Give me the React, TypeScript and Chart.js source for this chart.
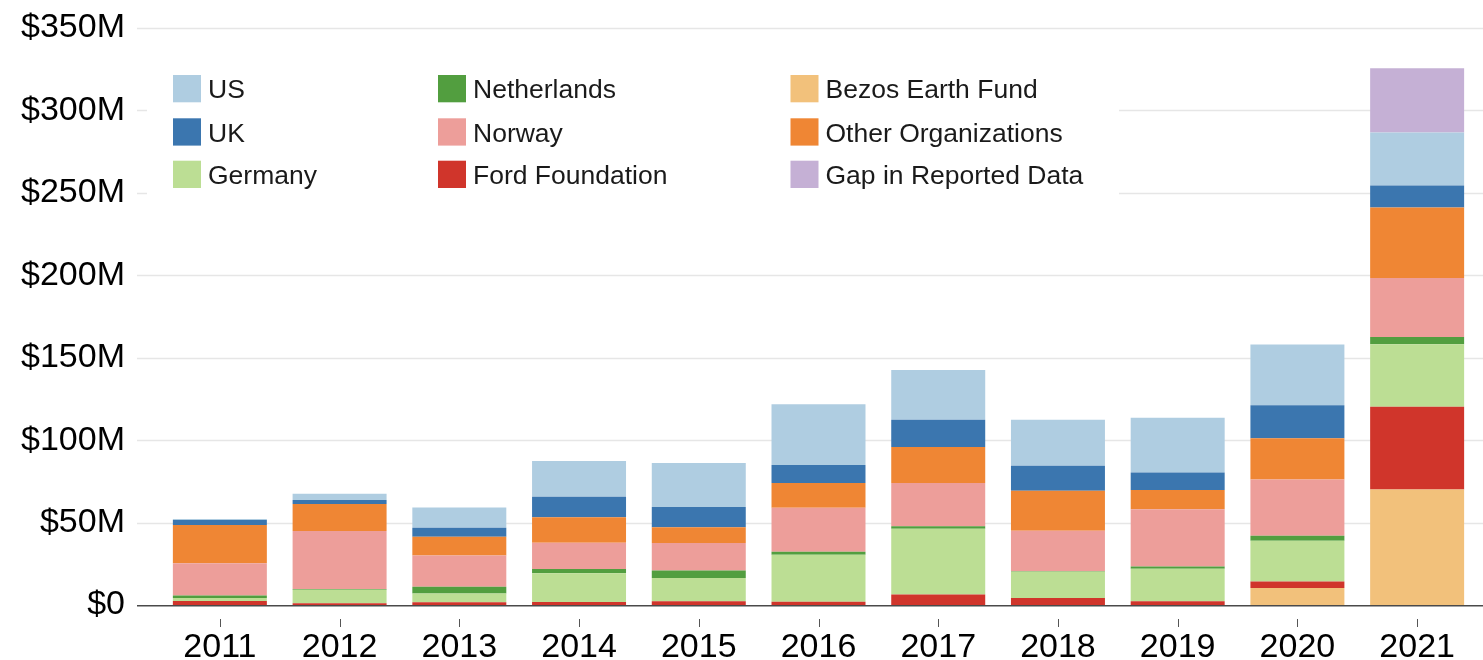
import React, { useEffect, useRef } from "react";
import { Chart, registerables } from "chart.js";

Chart.register(...registerables);

const years = ["2011", "2012", "2013", "2014", "2015", "2016", "2017", "2018", "2019", "2020", "2021"];
const bezos = [0, 0, 0, 0, 0, 0, 0, 0, 0, 10.3, 70];
const ford = [2.5, 1, 1.6, 1.8, 2.2, 2, 6.3, 4.2, 2.2, 4, 50.2];
const germany = [1.8, 8.3, 5.3, 17.4, 14.2, 28.5, 40, 16, 19.8, 24.6, 37.9];
const netherlands = [1.4, 0.4, 4.2, 2.6, 4.6, 1.8, 1.4, 0.3, 1.3, 3.1, 4.4];
const norway = [19.7, 35.2, 19, 16, 16.6, 26.7, 26.3, 24.5, 34.8, 34.1, 35.9];
const other = [23.2, 16.4, 11.3, 15.4, 9.5, 15, 21.8, 24.3, 11.7, 25.1, 42.7];
const uk = [3, 2.4, 5.5, 12.4, 12.3, 10.9, 16.6, 15.2, 10.6, 20, 13.4];
const us = [0.5, 3.8, 12.3, 21.8, 26.7, 36.8, 30.1, 27.9, 33.2, 36.8, 32.1];
const gap = [0, 0, 0, 0, 0, 0, 0, 0, 0, 0, 39];

const yTicks = [0, 50, 100, 150, 200, 250, 300, 350];

// legend layout: columns of labels
const legendColumns = [
  ["US", "UK", "Germany"],
  ["Netherlands", "Norway", "Ford Foundation"],
  ["Bezos Earth Fund", "Other Organizations", "Gap in Reported Data"],
];

const FONT = "'Liberation Sans', Arial, Helvetica, sans-serif";

const customDraw = {
  id: "customDraw",
  beforeDatasetsDraw(chart: any) {
    const { ctx } = chart;
    const y = chart.scales.y;
    const x = chart.scales.x;
    const W = chart.width;
    ctx.save();
    // gridlines
    ctx.strokeStyle = "#e6e6e6";
    ctx.lineWidth = 1.3;
    yTicks.forEach((v) => {
      if (v === 0) return;
      const py = Math.round(y.getPixelForValue(v)) + 0.5;
      ctx.beginPath();
      ctx.moveTo(137, py);
      ctx.lineTo(W, py);
      ctx.stroke();
    });
    // legend background
    ctx.fillStyle = "#ffffff";
    ctx.fillRect(147, 60, 972, 145);
    // tick marks
    ctx.strokeStyle = "#555555";
    ctx.lineWidth = 1;
    years.forEach((_, i) => {
      const px = Math.round(x.getPixelForValue(i)) + 0.5;
      ctx.beginPath();
      ctx.moveTo(px, 619);
      ctx.lineTo(px, 627);
      ctx.stroke();
    });
    ctx.restore();
  },
  afterDatasetsDraw(chart: any) {
    const { ctx } = chart;
    const y = chart.scales.y;
    const W = chart.width;
    ctx.save();
    // axis line
    const py = y.getPixelForValue(0) + 0.75;
    ctx.strokeStyle = "#4a4a4a";
    ctx.lineWidth = 1.5;
    ctx.beginPath();
    ctx.moveTo(137, py);
    ctx.lineTo(W, py);
    ctx.stroke();
    // legend
    const colX = [173, 438, 790.5];
    const rowY = [75, 118.3, 160.7];
    ctx.font = `26.5px ${FONT}`;
    ctx.textBaseline = "middle";
    ctx.textAlign = "left";
    legendColumns.forEach((col, ci) => {
      col.forEach((label, ri) => {
        const ds = chart.data.datasets.find((d: any) => d.label === label);
        if (!ds) return;
        ctx.fillStyle = ds.backgroundColor;
        ctx.fillRect(colX[ci], rowY[ri], 28, 27.3);
        ctx.fillStyle = "#1a1a1a";
        ctx.fillText(label, colX[ci] + 35, rowY[ri] + 16);
      });
    });
    ctx.restore();
  },
};

export default function App() {
  const ref = useRef<HTMLCanvasElement | null>(null);
  useEffect(() => {
    if (!ref.current) return;
    const mk = (label: string, data: number[], color: string) => ({
      label,
      data,
      backgroundColor: color,
      borderWidth: 0,
      stack: "s",
    });
    const chart = new Chart(ref.current, {
      type: "bar",
      data: {
        labels: years,
        datasets: [
          mk("Bezos Earth Fund", bezos, "#f2c17b"),
          mk("Ford Foundation", ford, "#d0352b"),
          mk("Germany", germany, "#bcde94"),
          mk("Netherlands", netherlands, "#529e3f"),
          mk("Norway", norway, "#ed9e9a"),
          mk("Other Organizations", other, "#ef8634"),
          mk("UK", uk, "#3b76af"),
          mk("US", us, "#afcde1"),
          mk("Gap in Reported Data", gap, "#c5b0d5"),
        ],
      },
      options: {
        animation: false,
        responsive: false,
        devicePixelRatio: 1,
        layout: { padding: { top: 28, right: 6, left: 0, bottom: 0 } },
        datasets: { bar: { categoryPercentage: 1, barPercentage: 0.785 } },
        plugins: { legend: { display: false }, tooltip: { enabled: false } },
        scales: {
          x: {
            stacked: true,
            grid: { display: false, drawTicks: false },
            border: { display: false },
            ticks: { color: "#000", font: { family: FONT, size: 34 }, padding: 22 },
            afterFit: (s: any) => {
              s.height = 55;
              s.paddingLeft = 0;
              s.paddingRight = 0;
            },
          },
          y: {
            stacked: true,
            min: 0,
            max: 350,
            grid: { display: false, drawTicks: false },
            border: { display: false },
            ticks: {
              stepSize: 50,
              color: "#000",
              font: { family: FONT, size: 34 },
              padding: 35,
              callback: (v: any) => (v === 0 ? "$0" : `$${v}M`),
            },
            afterFit: (s: any) => {
              s.width = 160;
              s.paddingTop = 0;
              s.paddingBottom = 0;
            },
          },
        },
      },
      plugins: [customDraw],
    });
    return () => chart.destroy();
  }, []);
  return (
    <div style={{ position: "fixed", left: 0, top: 0, width: 1483, height: 660, background: "#fff" }}>
      <canvas ref={ref} width={1483} height={660} style={{ width: 1483, height: 660, display: "block" }} />
    </div>
  );
}
